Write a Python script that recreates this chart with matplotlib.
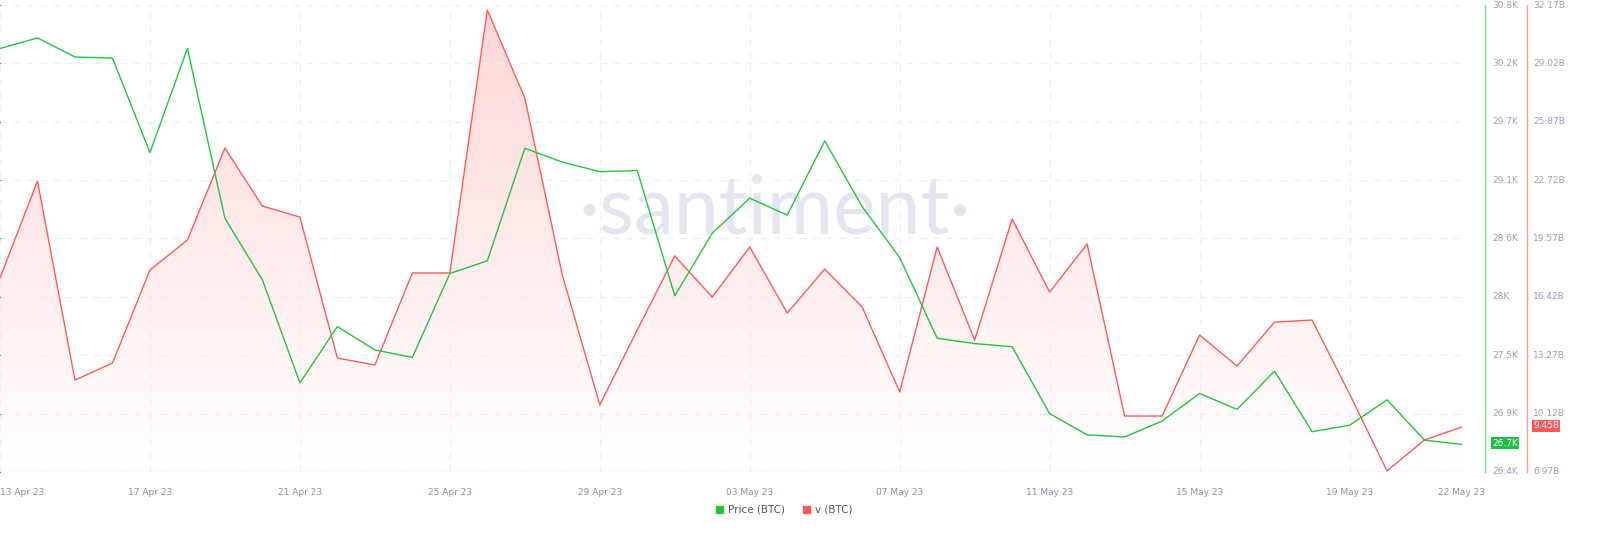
import matplotlib
matplotlib.use("Agg")
import matplotlib.pyplot as plt
import numpy as np
from matplotlib.patches import Polygon

dates = ["13 Apr 23","17 Apr 23","21 Apr 23","25 Apr 23","29 Apr 23","03 May 23","07 May 23","11 May 23","15 May 23","19 May 23","22 May 23"]
date_idx = [0,4,8,12,16,20,24,28,32,36,39]
price = [30.39,30.49,30.31,30.30,29.41,30.39,28.79,28.21,27.24,27.77,27.55,27.48,28.27,28.39,29.45,29.32,29.23,29.24,28.06,28.65,28.98,28.82,29.52,28.90,28.42,27.66,27.61,27.58,26.95,26.75,26.73,26.88,27.14,26.99,27.35,26.78,26.84,27.08,26.70,26.66]
volume = [17.44,22.67,11.93,12.85,17.87,19.49,24.45,21.32,20.73,13.12,12.74,17.71,17.71,31.90,27.15,17.60,10.59,14.63,18.63,16.41,19.11,15.55,17.92,15.87,11.29,19.11,14.09,20.62,16.68,19.27,9.99,9.99,14.36,12.69,15.06,15.17,11.18,7.03,8.70,9.40]
p_ticks = ["26.4K","26.9K","27.5K","28K","28.6K","29.1K","29.7K","30.2K","30.8K"]
v_ticks = ["6.97B","10.12B","13.27B","16.42B","19.57B","22.72B","25.87B","29.02B","32.17B"]

W, H = 1600, 541
fig = plt.figure(figsize=(W/100, H/100), dpi=100)
ax = fig.add_axes([0, 1-472/H, 1462/W, 467/H])
x = np.arange(len(price))
ax.set_xlim(0, 39)
pmin, pmax = 26.4, 30.8
vmin, vmax = 6.97, 32.17
ax.set_ylim(vmin, vmax)
for s in ax.spines.values():
    s.set_visible(False)
ax.set_yticks(np.linspace(vmin, vmax, 9))
ax.set_yticklabels([])
ax.tick_params(left=False, bottom=False, pad=8)
ax.set_xticks(date_idx)
ax.set_xticklabels(dates, fontsize=6.5, color="#8a90a8")
lbls = ax.get_xticklabels()
lbls[0].set_ha("left")
ax.grid(True, color="#eceef4", ls=(0, (6, 6)), lw=0.8)
ax.axhline(vmin, color="#e6e8f0", lw=1)

grad = np.linspace(0.25, 0.0, 256).reshape(-1, 1)
rgba = np.zeros((256, 1, 4)); rgba[..., 0] = 1.0; rgba[..., 1] = 0.35; rgba[..., 2] = 0.35; rgba[..., 3] = grad
im = ax.imshow(rgba, extent=[0, 39, vmin, vmax], aspect="auto", origin="upper", zorder=1)
poly = Polygon(list(zip(x, volume)) + [(39, vmin), (0, vmin)], closed=True, transform=ax.transData)
im.set_clip_path(poly)
ax.plot(x, volume, color="#ff5a5a", lw=1, zorder=3)

ax2 = ax.twinx()
ax2.set_ylim(pmin, pmax)
ax2.set_yticks([])
for s in ax2.spines.values():
    s.set_visible(False)
ax2.plot(x, price, color="#22c540", lw=1, zorder=4)

ax.text(0.53, 0.56, "·santiment·", transform=ax.transAxes, fontsize=58, color="#e3e5f0",
        ha="center", va="center", zorder=0, family="Lato")

fig.add_artist(plt.Line2D([1485/W]*2, [1-472/H, 1-5/H], color="#7ddc8c", lw=1))
fig.add_artist(plt.Line2D([1527/W]*2, [1-472/H, 1-5/H], color="#ff9a9a", lw=1))
for i, (pl, vl) in enumerate(zip(p_ticks, v_ticks)):
    yy = 1 - (472 - i*467/8)/H
    fig.text(1492/W, yy, pl, fontsize=6.5, color="#9aa0b8", va="center")
    fig.text(1533/W, yy, vl, fontsize=6.5, color="#9aa0b8", va="center")
fig.text(1492/W, 1-443/H, "26.7K", fontsize=6.5, color="white", va="center",
         bbox=dict(boxstyle="square,pad=0.15", fc="#1fbf44", ec="none"))
fig.text(1533/W, 1-426/H, "9.45B", fontsize=6.5, color="white", va="center",
         bbox=dict(boxstyle="square,pad=0.15", fc="#ff5a5a", ec="none"))

fig.patches.append(plt.Rectangle((716/W, 1-513/H), 7/W, 7/H, transform=fig.transFigure, color="#22c540"))
fig.text(728/W, 1-510/H, "Price (BTC)", fontsize=7.5, color="#555", va="center")
fig.patches.append(plt.Rectangle((803/W, 1-513/H), 7/W, 7/H, transform=fig.transFigure, color="#ff5a5a"))
fig.text(815/W, 1-510/H, "v (BTC)", fontsize=7.5, color="#555", va="center")

fig.savefig("out.png", dpi=100)
